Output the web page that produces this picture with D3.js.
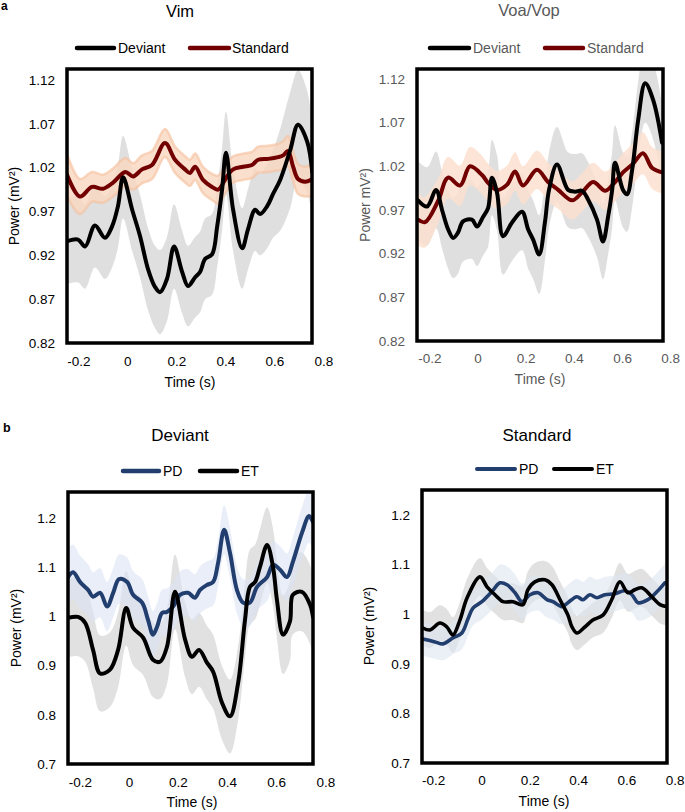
<!DOCTYPE html>
<html><head><meta charset="utf-8">
<script src="https://cdn.jsdelivr.net/npm/d3@7"></script>
<style>
body{margin:0;background:#fff}
svg{display:block}
text{font-family:"Liberation Sans",Arial,Helvetica,sans-serif}
</style>
</head><body>
<svg id="chart" width="685" height="812"></svg>
<script>
// ---------------- DATA ----------------
const xTickVals = [-0.2, 0, 0.2, 0.4, 0.6, 0.8];
const yTicksA = [0.82, 0.87, 0.92, 0.97, 1.02, 1.07, 1.12];
const yTicksB = [0.7, 0.8, 0.9, 1, 1.1, 1.2];

// Panel a, Vim — Standard
const vimStdT = [-0.246,-0.193,-0.144,-0.099,-0.058,-0.008,0.024,0.060,0.101,0.154,0.195,0.236,0.256,0.277,0.309,0.346,0.371,0.407,0.432,0.473,0.509,0.534,0.575,0.616,0.636,0.656,0.677,0.697,0.726,0.750];
const vimStdM = [1.012,0.987,0.998,0.996,1.003,1.015,1.010,1.018,1.023,1.048,1.029,1.018,1.014,1.021,1.006,0.998,0.995,1.010,1.018,1.021,1.023,1.029,1.030,1.032,1.034,1.039,1.021,1.007,1.004,1.006];
const vimStdE = [0.024,0.020,0.017,0.016,0.016,0.016,0.015,0.016,0.016,0.016,0.015,0.015,0.015,0.015,0.015,0.015,0.016,0.016,0.015,0.015,0.015,0.015,0.015,0.015,0.016,0.017,0.017,0.017,0.017,0.018];
// Panel a, Vim — Deviant
const vimDevT = [-0.246,-0.201,-0.172,-0.132,-0.091,-0.062,-0.038,-0.017,0.020,0.052,0.085,0.113,0.134,0.162,0.191,0.224,0.248,0.277,0.297,0.318,0.346,0.367,0.387,0.403,0.432,0.469,0.493,0.522,0.542,0.571,0.595,0.624,0.665,0.697,0.734,0.755];
const vimDevM = [0.936,0.938,0.930,0.954,0.940,0.953,0.976,1.009,0.972,0.942,0.904,0.884,0.878,0.893,0.930,0.901,0.885,0.895,0.901,0.916,0.921,0.953,0.995,1.037,0.972,0.928,0.950,0.972,0.967,0.976,0.990,1.006,1.040,1.069,1.050,1.015];
const vimDevE = [0.049,0.049,0.048,0.048,0.047,0.047,0.047,0.047,0.047,0.047,0.047,0.047,0.048,0.048,0.048,0.047,0.046,0.046,0.046,0.046,0.046,0.046,0.047,0.047,0.047,0.046,0.046,0.047,0.047,0.048,0.050,0.058,0.066,0.062,0.058,0.055];

// Panel a, Voa/Vop — Standard
const voaStdT = [-0.247,-0.218,-0.164,-0.122,-0.072,-0.031,0.019,0.044,0.081,0.123,0.156,0.189,0.247,0.293,0.335,0.393,0.434,0.480,0.530,0.571,0.604,0.646,0.687,0.725,0.766];
const voaStdM = [0.959,0.956,0.980,1.007,0.998,1.020,1.010,1.001,0.993,0.999,1.014,0.998,1.016,1.002,0.993,0.981,0.990,1.002,0.992,1.002,1.013,1.023,1.035,1.018,1.013];
const voaStdE = [0.030,0.029,0.026,0.024,0.023,0.022,0.022,0.022,0.022,0.022,0.022,0.022,0.022,0.022,0.022,0.022,0.022,0.022,0.022,0.022,0.022,0.023,0.024,0.024,0.024];
// Panel a, Voa/Vop — Deviant
const voaDevT = [-0.247,-0.209,-0.172,-0.147,-0.122,-0.101,-0.081,-0.060,-0.023,-0.002,0.023,0.044,0.060,0.081,0.106,0.144,0.185,0.210,0.231,0.256,0.280,0.297,0.330,0.376,0.405,0.434,0.459,0.496,0.521,0.542,0.559,0.571,0.604,0.621,0.642,0.667,0.696,0.729,0.766];
const voaDevM = [0.981,0.974,0.993,0.970,0.948,0.938,0.944,0.957,0.959,0.951,0.962,0.972,1.007,0.990,0.940,0.956,0.968,0.948,0.936,0.919,0.956,0.993,1.022,0.993,0.991,0.992,0.982,0.959,0.934,0.962,0.993,1.024,0.993,0.988,1.016,1.073,1.115,1.096,1.047];
const voaDevE = [0.045,0.045,0.044,0.044,0.045,0.046,0.047,0.046,0.045,0.045,0.044,0.044,0.043,0.043,0.044,0.044,0.044,0.045,0.045,0.045,0.044,0.043,0.043,0.043,0.043,0.043,0.043,0.043,0.043,0.043,0.043,0.043,0.043,0.043,0.043,0.044,0.045,0.045,0.045];

// Panel b, Deviant — PD
const devPdT = [-0.248,-0.227,-0.199,-0.166,-0.146,-0.117,-0.089,-0.064,-0.040,-0.007,0.017,0.054,0.078,0.098,0.115,0.135,0.155,0.180,0.208,0.241,0.269,0.290,0.318,0.343,0.363,0.388,0.412,0.440,0.465,0.493,0.522,0.563,0.587,0.616,0.644,0.668,0.705,0.734,0.750];
const devPdM = [1.080,1.090,1.070,1.054,1.040,1.048,1.020,1.048,1.076,1.070,1.044,1.028,0.993,0.963,0.979,1.007,1.009,1.020,1.044,1.048,1.038,1.054,1.064,1.070,1.108,1.176,1.129,1.054,1.028,1.028,1.060,1.080,1.105,1.095,1.080,1.111,1.170,1.204,1.192];
const devPdE = [0.058,0.056,0.054,0.052,0.050,0.050,0.050,0.050,0.050,0.050,0.048,0.048,0.048,0.048,0.048,0.048,0.048,0.048,0.048,0.048,0.048,0.048,0.048,0.048,0.048,0.050,0.050,0.048,0.048,0.048,0.048,0.048,0.048,0.048,0.048,0.050,0.052,0.054,0.054];
// Panel b, Deviant — ET
const devEtT = [-0.248,-0.207,-0.178,-0.146,-0.117,-0.077,-0.044,-0.011,0.017,0.058,0.098,0.127,0.155,0.188,0.229,0.257,0.286,0.318,0.343,0.379,0.412,0.445,0.473,0.493,0.514,0.534,0.563,0.587,0.603,0.628,0.656,0.668,0.705,0.738,0.750];
const devEtM = [0.997,0.999,0.987,0.932,0.884,0.892,0.932,1.017,0.977,0.957,0.912,0.908,0.938,1.050,0.953,0.918,0.932,0.906,0.888,0.825,0.797,0.865,0.993,1.060,1.070,1.101,1.145,1.101,1.034,0.963,0.990,1.044,1.050,1.024,0.999];
const devEtE = [0.080,0.080,0.079,0.078,0.077,0.076,0.076,0.076,0.076,0.076,0.076,0.076,0.076,0.076,0.076,0.076,0.075,0.075,0.075,0.075,0.075,0.075,0.076,0.076,0.076,0.077,0.077,0.078,0.079,0.080,0.080,0.080,0.080,0.080,0.080];

// Panel b, Standard — PD
const stdPdT = [-0.242,-0.192,-0.159,-0.118,-0.081,-0.056,-0.035,0.002,0.043,0.077,0.106,0.139,0.168,0.201,0.234,0.271,0.296,0.333,0.358,0.395,0.420,0.449,0.478,0.511,0.552,0.594,0.623,0.648,0.689,0.726,0.759];
const stdPdM = [0.950,0.944,0.940,0.952,0.962,0.990,1.012,1.025,1.045,1.063,1.059,1.043,1.025,1.039,1.043,1.029,1.025,1.015,1.023,1.035,1.029,1.039,1.033,1.039,1.041,1.047,1.039,1.023,1.029,1.045,1.063];
const stdPdE = [0.034,0.034,0.033,0.033,0.033,0.034,0.035,0.036,0.037,0.037,0.037,0.037,0.036,0.036,0.036,0.036,0.036,0.036,0.036,0.036,0.036,0.036,0.036,0.036,0.036,0.036,0.036,0.036,0.037,0.038,0.038];
// Panel b, Standard — ET
const stdEtT = [-0.242,-0.213,-0.172,-0.143,-0.118,-0.089,-0.060,-0.006,0.023,0.056,0.089,0.130,0.172,0.192,0.221,0.263,0.292,0.325,0.358,0.374,0.395,0.428,0.461,0.503,0.540,0.573,0.606,0.635,0.664,0.705,0.739,0.768];
const stdEtM = [0.972,0.968,0.982,0.974,0.958,0.988,1.032,1.075,1.055,1.039,1.025,1.025,1.019,1.049,1.065,1.069,1.059,1.029,0.998,0.975,0.962,0.974,0.988,0.998,1.030,1.065,1.043,1.049,1.053,1.035,1.019,1.015];
const stdEtE = [0.036,0.036,0.036,0.036,0.036,0.037,0.038,0.038,0.038,0.038,0.037,0.037,0.037,0.037,0.038,0.038,0.038,0.037,0.036,0.036,0.035,0.035,0.035,0.036,0.037,0.038,0.038,0.038,0.038,0.038,0.038,0.038];

// ---------------- STYLE / LAYOUT ----------------
const BLACK = "#000000", RED = "#720000", BLUE = "#213e6e";
const svg = d3.select("#chart");
const mk = (T, M, E) => T.map((t, i) => ({t, m: M[i], e: E[i]}));

const panels = [
  { id: "aL", box: [67, 69, 312, 343], xDom: [-0.246, 0.754], yDom: [0.82, 1.1325], yTicks: yTicksA, yFmt: d3.format(".2f"),
    color: "#000", title: "Vim", titleX: 180, titleY: 17, titleSize: 16.5,
    xLabBase: 366, xTitle: [190, 387], yTitle: [19, 206], yTitleText: "Power (mV²)",
    legend: [{x1: 77, x2: 114, y: 48, c: BLACK, w: 4.5, text: "Deviant", tx: 118, ty: 53},
             {x1: 190, x2: 229, y: 48, c: RED, w: 4.5, text: "Standard", tx: 232, ty: 53}],
    bands: [{s: mk(vimDevT, vimDevM, vimDevE), fill: "#d9d9d9", op: 0.85},
            {s: mk(vimStdT, vimStdM, vimStdE), fill: "#fad7c1", op: 0.8, edge: "#f5bf9c"}],
    lines: [{s: mk(vimStdT, vimStdM, vimStdE), c: RED, w: 4},
            {s: mk(vimDevT, vimDevM, vimDevE), c: BLACK, w: 4}] },
  { id: "aR", box: [417, 69, 663, 341], xDom: [-0.251, 0.770], yDom: [0.82, 1.1314], yTicks: yTicksA, yFmt: d3.format(".2f"),
    color: "#595959", title: "Voa/Vop", titleX: 529, titleY: 16, titleSize: 16.5,
    xLabBase: 363, xTitle: [540, 384], yTitle: [370, 205], yTitleText: "Power mV²)",
    legend: [{x1: 430, x2: 469, y: 48, c: BLACK, w: 4.5, text: "Deviant", tx: 473, ty: 53},
             {x1: 545, x2: 583, y: 48, c: RED, w: 4.5, text: "Standard", tx: 587, ty: 53}],
    bands: [{s: mk(voaDevT, voaDevM, voaDevE), fill: "#d9d9d9", op: 0.85},
            {s: mk(voaStdT, voaStdM, voaStdE), fill: "#fbe0cf", op: 0.85}],
    lines: [{s: mk(voaStdT, voaStdM, voaStdE), c: RED, w: 4},
            {s: mk(voaDevT, voaDevM, voaDevE), c: BLACK, w: 4}] },
  { id: "bL", box: [68, 492, 313, 764], xDom: [-0.248, 0.750], yDom: [0.7, 1.253], yTicks: yTicksB, yFmt: d => String(d),
    color: "#000", title: "Deviant", titleX: 180, titleY: 441, titleSize: 17,
    xLabBase: 787, xTitle: [192, 807], yTitle: [21, 628], yTitleText: "Power (mV²)",
    legend: [{x1: 123, x2: 159, y: 471, c: BLUE, w: 4.5, text: "PD", tx: 163, ty: 476},
             {x1: 200, x2: 237, y: 471, c: BLACK, w: 4.5, text: "ET", tx: 241, ty: 476}],
    bands: [{s: mk(devEtT, devEtM, devEtE), fill: "#d4d4d4", op: 0.7},
            {s: mk(devPdT, devPdM, devPdE), fill: "#dae3f3", op: 0.6}],
    lines: [{s: mk(devPdT, devPdM, devPdE), c: BLUE, w: 4},
            {s: mk(devEtT, devEtM, devEtE), c: BLACK, w: 4}] },
  { id: "bR", box: [422, 490, 667, 763], xDom: [-0.246, 0.768], yDom: [0.7, 1.250], yTicks: yTicksB, yFmt: d => String(d),
    color: "#000", title: "Standard", titleX: 537, titleY: 441, titleSize: 17,
    xLabBase: 785, xTitle: [544, 806], yTitle: [374, 626], yTitleText: "Power (mV²)",
    legend: [{x1: 477, x2: 515, y: 469, c: BLUE, w: 4, text: "PD", tx: 519, ty: 474},
             {x1: 554, x2: 592, y: 469, c: BLACK, w: 4, text: "ET", tx: 596, ty: 474}],
    bands: [{s: mk(stdEtT, stdEtM, stdEtE), fill: "#d4d4d4", op: 0.7},
            {s: mk(stdPdT, stdPdM, stdPdE), fill: "#dde4f0", op: 0.6}],
    lines: [{s: mk(stdPdT, stdPdM, stdPdE), c: BLUE, w: 3.6},
            {s: mk(stdEtT, stdEtM, stdEtE), c: BLACK, w: 3.6}] }
];

const defs = svg.append("defs");

panels.forEach(p => {
  const [L, T, R, B] = p.box;
  const x = d3.scaleLinear().domain(p.xDom).range([L, R]);
  const y = d3.scaleLinear().domain(p.yDom).range([B, T]);
  const g = svg.append("g").attr("class", "panel-" + p.id);

  defs.append("clipPath").attr("id", "clip-" + p.id)
    .append("rect").attr("x", L).attr("y", T).attr("width", R - L).attr("height", B - T);
  const plot = g.append("g").attr("clip-path", `url(#clip-${p.id})`);

  const curve = d3.curveCatmullRom.alpha(0.5);
  const area = d3.area().x(d => x(d.t)).y0(d => y(d.m - d.e)).y1(d => y(d.m + d.e)).curve(curve);
  const line = d3.line().x(d => x(d.t)).y(d => y(d.m)).curve(curve);

  p.bands.forEach(b => {
    plot.append("path").datum(b.s).attr("d", area).attr("fill", b.fill).attr("fill-opacity", b.op);
    if (b.edge) {
      ["up", "dn"].forEach(k => {
        plot.append("path").datum(b.s)
          .attr("d", d3.line().x(d => x(d.t)).y(d => y(k === "up" ? d.m + d.e : d.m - d.e)).curve(curve))
          .attr("fill", "none").attr("stroke", b.edge).attr("stroke-width", 2.5).attr("stroke-opacity", 0.6);
      });
    }
  });
  p.lines.forEach(l => {
    plot.append("path").datum(l.s).attr("d", line).attr("fill", "none")
      .attr("stroke", l.c).attr("stroke-width", l.w).attr("stroke-linejoin", "round").attr("stroke-linecap", "round");
  });

  // frame
  g.append("rect").attr("x", L).attr("y", T).attr("width", R - L).attr("height", B - T)
    .attr("fill", "none").attr("stroke", "#000").attr("stroke-width", 3.5);

  // y axis labels
  const ya = g.append("g").attr("transform", `translate(${L},0)`)
    .call(d3.axisLeft(y).tickValues(p.yTicks).tickFormat(p.yFmt).tickSize(0).tickPadding(12));
  ya.select(".domain").remove();
  ya.selectAll("text").attr("font-size", 13.5).attr("fill", p.color)
    .attr("font-family", '"Liberation Sans",Arial,sans-serif');

  // x axis labels
  const fs = 13.5;
  const pad = p.xLabBase - B - 0.71 * fs;
  const xa = g.append("g").attr("transform", `translate(0,${B})`)
    .call(d3.axisBottom(x).tickValues(xTickVals).tickFormat(d => String(d)).tickSize(0).tickPadding(pad));
  xa.select(".domain").remove();
  xa.selectAll("text").attr("font-size", fs).attr("fill", p.color)
    .attr("font-family", '"Liberation Sans",Arial,sans-serif');

  // titles
  g.append("text").attr("x", p.titleX).attr("y", p.titleY).attr("text-anchor", "middle")
    .attr("font-size", p.titleSize).attr("fill", p.color).text(p.title);
  g.append("text").attr("x", p.xTitle[0]).attr("y", p.xTitle[1]).attr("text-anchor", "middle")
    .attr("font-size", 14).attr("fill", p.color).text("Time (s)");
  g.append("text").attr("transform", `translate(${p.yTitle[0]},${p.yTitle[1]}) rotate(-90)`)
    .attr("text-anchor", "middle").attr("font-size", 14).attr("fill", p.color).text(p.yTitleText);

  // legend
  p.legend.forEach(it => {
    g.append("line").attr("x1", it.x1).attr("x2", it.x2).attr("y1", it.y).attr("y2", it.y)
      .attr("stroke", it.c).attr("stroke-width", it.w).attr("stroke-linecap", "round");
    g.append("text").attr("x", it.tx).attr("y", it.ty).attr("font-size", 14).attr("fill", p.color).text(it.text);
  });
});

// panel letters
svg.append("text").attr("x", 1).attr("y", 10).attr("font-size", 12).attr("font-weight", "bold").text("a");
svg.append("text").attr("x", 3).attr("y", 432).attr("font-size", 12.5).attr("font-weight", "bold").text("b");
</script>
</body></html>
